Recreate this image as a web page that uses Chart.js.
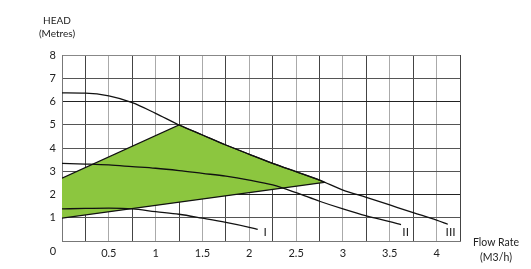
<!DOCTYPE html>
<html>
<head>
<meta charset="utf-8">
<script src="https://cdn.jsdelivr.net/npm/chart.js@4.4.1/dist/chart.umd.min.js"></script>
<style>
  html, body { margin: 0; padding: 0; background: #fff; }
  #pumpChart { display: block; }
</style>
</head>
<body>
<canvas id="pumpChart" width="531" height="269"></canvas>
<script>
// pump curves, flow (m3/h) vs head (m)
const flowI = [0, 0.25, 0.5, 0.75, 1, 1.25, 1.5, 1.75, 2, 2.09];
const headI = [1.38, 1.40, 1.41, 1.38, 1.26, 1.15, 0.98, 0.80, 0.59, 0.50];

const flowII = [0, 0.25, 0.5, 0.75, 1, 1.25, 1.5, 1.75, 2, 2.25, 2.5, 2.75, 3, 3.25, 3.5, 3.62];
const headII = [3.34, 3.31, 3.27, 3.20, 3.13, 3.03, 2.91, 2.79, 2.62, 2.41, 2.08, 1.71, 1.38, 1.08, 0.83, 0.70];

const flowIII = [0, 0.25, 0.5, 0.75, 1, 1.25, 1.5, 1.75, 2, 2.25, 2.5, 2.75, 3, 3.25, 3.5, 3.75, 4, 4.12];
const headIII = [6.37, 6.36, 6.24, 5.95, 5.49, 4.99, 4.56, 4.13, 3.73, 3.34, 2.98, 2.62, 2.19, 1.88, 1.55, 1.22, 0.90, 0.72];

// recommended operating zone (green shape)
const zoneFlow = [0, 1.25, 1.5, 1.75, 2, 2.25, 2.5, 2.75, 2.8, 0];
const zoneHead = [2.7, 4.99, 4.56, 4.13, 3.73, 3.34, 2.98, 2.62, 2.52, 0.98];

const curveNames = ["I", "II", "III"];
const curveLabelFlow = [2.17, 3.67, 4.15];
const curveLabelHead = [0.40, 0.40, 0.38];

const xTicks = [0.5, 1, 1.5, 2, 2.5, 3, 3.5, 4];

const FONT = "Lato, 'Open Sans', sans-serif";
const pts = (xs, ys) => xs.map((x, i) => ({ x: x, y: ys[i] }));

const curveStyle = {
  borderColor: "#111",
  borderWidth: 1.3,
  pointRadius: 0,
  fill: false,
  tension: 0.4,
  cubicInterpolationMode: "monotone"
};

const textPlugin = {
  id: "chartText",
  afterDraw(chart) {
    const ctx = chart.ctx;
    const xs = chart.scales.x, ys = chart.scales.y;
    ctx.save();
    ctx.fillStyle = "#222";
    ctx.textAlign = "center";
    ctx.textBaseline = "middle";
    ctx.font = "10px " + FONT;
    ctx.fillText("HEAD", 57, 21);
    ctx.fillText("(Metres)", 57, 34);
    ctx.font = "10.5px " + FONT;
    ctx.fillText("Flow Rate", 496, 243);
    ctx.fillText("(M3/h)", 496, 258);
    ctx.font = "11px " + FONT;
    ctx.fillText("0", 53, 251);
    ctx.font = "12px " + FONT;
    curveNames.forEach((n, i) => {
      ctx.fillText(n, xs.getPixelForValue(curveLabelFlow[i]), ys.getPixelForValue(curveLabelHead[i]));
    });
    ctx.restore();
  }
};

new Chart(document.getElementById("pumpChart"), {
  type: "line",
  data: {
    datasets: [
      Object.assign({ label: "I", data: pts(flowI, headI) }, curveStyle),
      Object.assign({ label: "II", data: pts(flowII, headII) }, curveStyle),
      Object.assign({ label: "III", data: pts(flowIII, headIII) }, curveStyle),
      {
        label: "zone",
        data: pts(zoneFlow, zoneHead),
        borderColor: "#111",
        borderWidth: 1.2,
        backgroundColor: "#8cc63f",
        pointRadius: 0,
        tension: 0,
        fill: "shape",
        order: 10
      }
    ]
  },
  options: {
    responsive: false,
    animation: false,
    devicePixelRatio: 1,
    layout: { padding: { top: 55, right: 71, left: 0, bottom: 0 } },
    plugins: { legend: { display: false }, tooltip: { enabled: false } },
    scales: {
      x: {
        type: "linear",
        min: 0,
        max: 4.25,
        z: 1,
        border: { color: "#777", width: 1 },
        grid: {
          drawTicks: false,
          color: ctx => (ctx.tick && Math.abs(ctx.tick.value % 0.5) < 0.01 && ctx.tick.value > 0 && ctx.tick.value < 4.25) ? "#aaa" : "#444",
          lineWidth: 1
        },
        ticks: {
          stepSize: 0.25,
          autoSkip: false,
          maxRotation: 0,
          padding: 6,
          color: "#222",
          font: { family: FONT, size: 11 },
          callback: v => xTicks.includes(v) ? String(v) : ""
        },
        afterFit: s => { s.height = 28; }
      },
      y: {
        min: 0,
        max: 8,
        z: 1,
        border: { color: "#777", width: 1 },
        grid: {
          drawTicks: false,
          color: ctx => (ctx.tick && (ctx.tick.value === 2 || ctx.tick.value === 6)) ? "#222" : (ctx.tick && ctx.tick.value === 8 ? "#888" : "#555"),
          lineWidth: 1
        },
        ticks: {
          stepSize: 1,
          padding: 6,
          color: "#222",
          font: { family: FONT, size: 11 },
          callback: v => v === 0 ? "" : String(v)
        },
        afterFit: s => { s.width = 62; }
      }
    }
  },
  plugins: [textPlugin]
});
</script>
</body>
</html>
